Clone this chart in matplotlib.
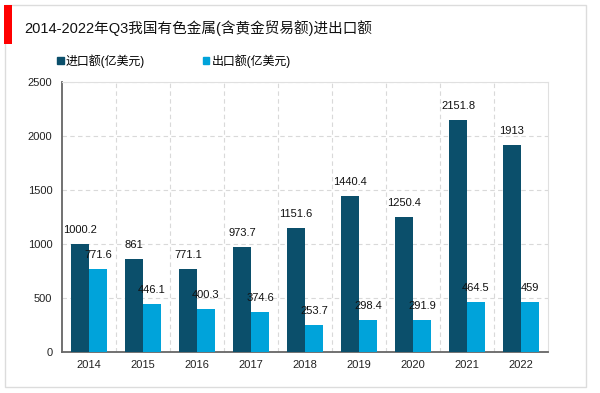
import numpy as np
from matplotlib import pyplot as plt
from matplotlib.patches import Rectangle

plt.rcParams['font.family'] = ['Liberation Sans', 'Noto Sans CJK SC', 'DejaVu Sans']

years = ['2014', '2015', '2016', '2017', '2018', '2019', '2020', '2021', '2022']
imports = [1000.2, 861, 771.1, 973.7, 1151.6, 1440.4, 1250.4, 2151.8, 1913]
exports = [771.6, 446.1, 400.3, 374.6, 253.7, 298.4, 291.9, 464.5, 459]
title = '2014-2022年Q3我国有色金属(含黄金贸易额)进出口额'
labels = ['进口额(亿美元)', '出口额(亿美元)']
colors = ['#0b4f6b', '#00a3da']

W, H = 600, 393
fig = plt.figure(figsize=(W / 100, H / 100), dpi=100)

# outer frame and red marker
fig.patches.append(Rectangle((5 / W, 1 - 387 / H), 581 / W, 382 / H, transform=fig.transFigure,
                             fill=False, edgecolor='#dcdcdc', linewidth=1))
fig.patches.append(Rectangle((4 / W, 1 - 44 / H), 8 / W, 39 / H, transform=fig.transFigure,
                             facecolor='#ff0000', edgecolor='none'))
fig.text(24 / W, 1 - 28 / H, title, fontsize=10.5, va='center', ha='left', color='#111111')

ax = fig.add_axes([62 / W, 1 - 352 / H, (548 - 62) / W, (352 - 82) / H])

x = np.arange(len(years))
w = 0.333
bars1 = ax.bar(x - w / 2, imports, width=w, color=colors[0], zorder=3)
bars2 = ax.bar(x + w / 2, exports, width=w, color=colors[1], zorder=3)

ax.set_xlim(-0.5, len(years) - 0.5)
ax.set_ylim(0, 2500)
ax.set_yticks(range(0, 2501, 500))
ax.set_xticks(x)
ax.set_xticklabels(years)
ax.tick_params(length=0, labelsize=8, colors='#222222')
ax.tick_params(axis='y', pad=7)
ax.tick_params(axis='x', pad=5.5)

ax.set_xticks(np.arange(0.5, len(years) - 0.5), minor=True)
ax.tick_params(which='minor', length=0)
ax.grid(axis='y', which='major', linestyle=(0, (4, 3)), color='#d9d9d9', linewidth=0.8, zorder=0)
ax.grid(axis='x', which='minor', linestyle=(0, (4, 3)), color='#d9d9d9', linewidth=0.8, zorder=0)

for s in ['top', 'right']:
    ax.spines[s].set_color('#e0e0e0')
    ax.spines[s].set_linewidth(0.8)
for s in ['left', 'bottom']:
    ax.spines[s].set_color('#666666')
    ax.spines[s].set_linewidth(1.3)


def autolabel(rects, vals):
    for rect, v in zip(rects, vals):
        ax.annotate('%g' % v, (rect.get_x() + rect.get_width() / 2., rect.get_height()),
                    xytext=(0, 9), textcoords='offset pixels',
                    ha='center', va='bottom', fontsize=8, color='#111111', zorder=4)


autolabel(bars1, imports)
autolabel(bars2, exports)

handles = [Rectangle((0, 0), 1, 1, color=c) for c in colors]
fig.legend(handles, labels, loc='center left', bbox_to_anchor=(57 / W, 1 - 61 / H),
           ncol=2, frameon=False, fontsize=8.6, handlelength=0.55, handleheight=0.55,
           handletextpad=0.2, columnspacing=4.8, borderpad=0, borderaxespad=0)

fig.savefig('out.png', dpi=100)
